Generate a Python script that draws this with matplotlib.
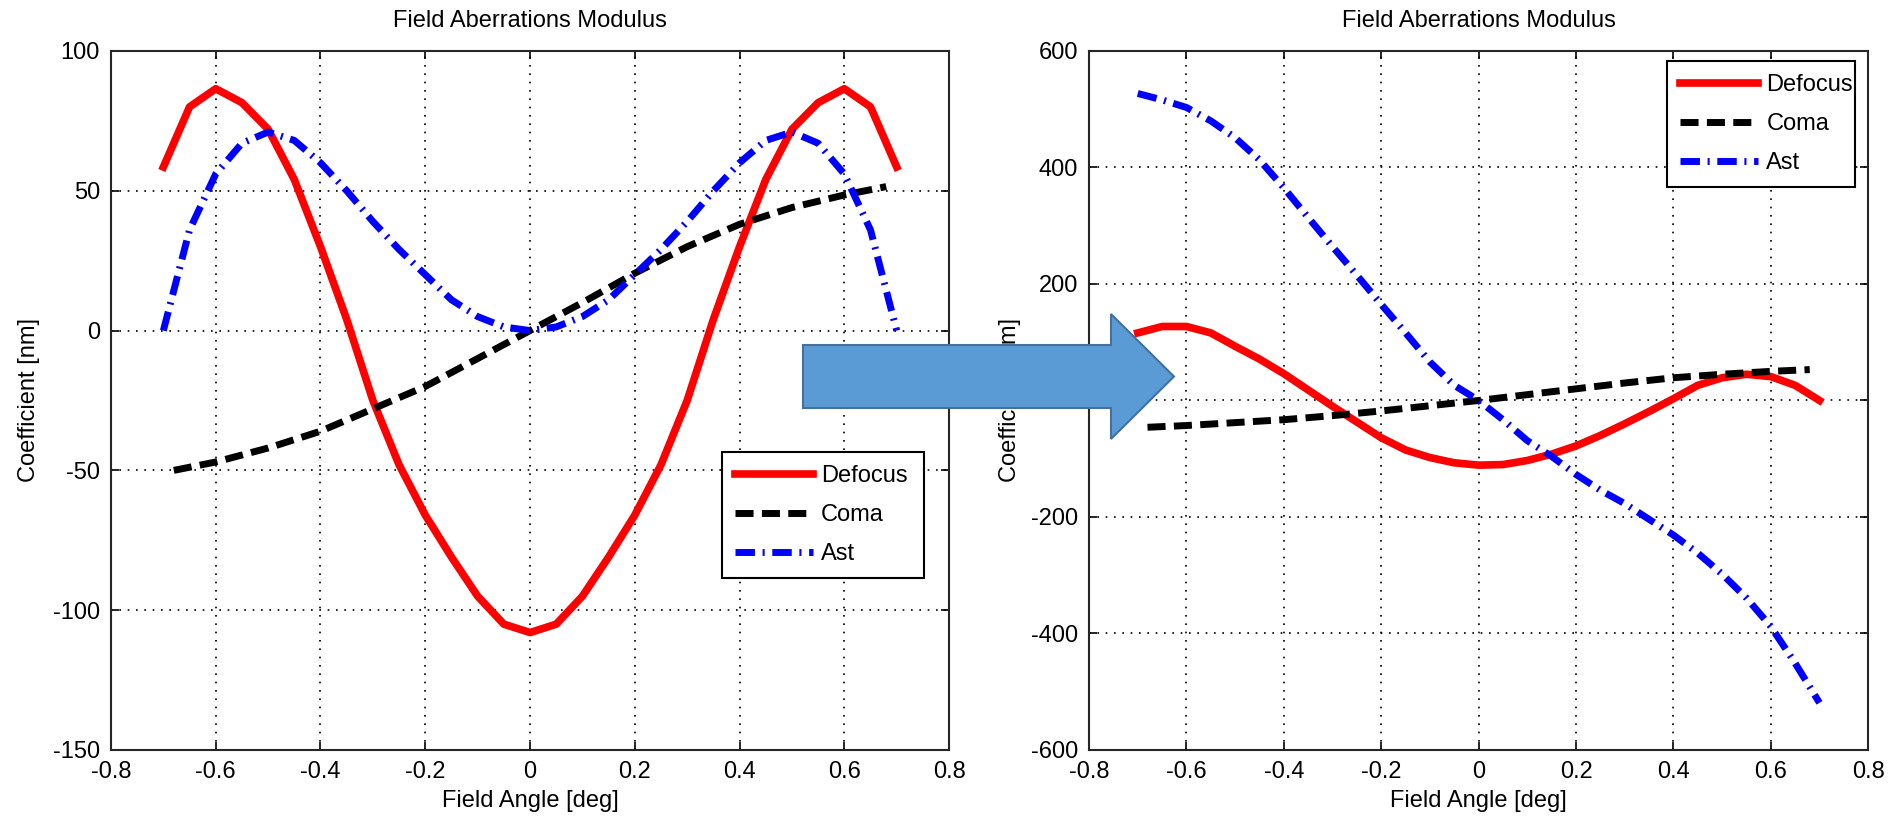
import numpy as np
import matplotlib
matplotlib.use('Agg')
import matplotlib.pyplot as plt
from matplotlib.patches import Polygon

plt.rcParams['font.family'] = ['Liberation Sans', 'DejaVu Sans']
plt.rcParams['font.size'] = 17
plt.rcParams['axes.unicode_minus'] = False

# ---- data ----
x_grid = [-0.7, -0.65, -0.6, -0.55, -0.5, -0.45, -0.4, -0.35, -0.3, -0.25, -0.2, -0.15, -0.1, -0.05, 0.0,
          0.05, 0.1, 0.15, 0.2, 0.25, 0.3, 0.35, 0.4, 0.45, 0.5, 0.55, 0.6, 0.65, 0.7]
x_coma = [-0.68, -0.6, -0.5, -0.4, -0.3, -0.2, -0.1, 0.0, 0.1, 0.2, 0.3, 0.4, 0.5, 0.6, 0.68]

# left panel
defocus_left = [58.5, 80, 86.5, 81.5, 72, 54, 30, 4, -25, -48, -66, -81, -95, -105, -108,
                -105, -95, -81, -66, -48, -25, 4, 30, 54, 72, 81.5, 86.5, 80, 58.5]
coma_left = [-50, -47, -42, -36, -28, -20, -10, 0, 10, 20.5, 30, 38, 44, 48.5, 51.5]
ast_left = [0, 36, 56, 67, 71, 68, 60, 50, 39, 29, 20, 11, 5, 1.3, 0,
            1.3, 5, 11, 20, 29, 39, 50, 60, 68, 71, 67, 56, 36, 0]

# right panel
defocus_right = [116, 127, 127, 116, 93, 71, 46, 18, -10, -37, -64, -85, -98, -107, -111,
                 -110, -103, -92, -78, -60, -40, -19, 3, 26, 39, 45, 41, 26, 0]
coma_right = [-46, -43, -38, -33, -26, -18, -9, 0, 10, 20, 30, 39, 45, 50, 53]
ast_right = [527, 516, 503, 480, 451, 413, 365, 314, 264, 215, 165, 116, 66, 26, 0,
             -33, -69, -96, -127, -154, -177, -204, -231, -262, -298, -339, -388, -451, -519]

x_ticks = [-0.8, -0.6, -0.4, -0.2, 0, 0.2, 0.4, 0.6, 0.8]
x_tick_labels = ['-0.8', '-0.6', '-0.4', '-0.2', '0', '0.2', '0.4', '0.6', '0.8']
y_ticks_left = [-150, -100, -50, 0, 50, 100]
y_ticks_right = [-600, -400, -200, 0, 200, 400, 600]

fig = plt.figure(figsize=(18.97, 8.22), dpi=100)
ax1 = fig.add_axes([0.0585, 0.0876, 0.4418, 0.8504])
ax2 = fig.add_axes([0.5741, 0.0876, 0.4107, 0.8504])


def draw(ax, defocus, coma, ast, yticks, ylim, leg_anchor, ylabelpad):
    ax.plot(x_grid, defocus, color='red', lw=5.5, label='Defocus', zorder=3)
    ax.plot(x_coma, coma, color='black', lw=5, dashes=(2.6, 1.2), dash_capstyle='butt', label='Coma', zorder=3)
    ax.plot(x_grid, ast, color='blue', lw=5, dashes=(2.8, 1.1, 0.3, 1.1), dash_capstyle='butt',
            label='Ast', zorder=3)
    ax.set_xlim(-0.8, 0.8)
    ax.set_ylim(*ylim)
    ax.set_xticks(x_ticks)
    ax.set_xticklabels(x_tick_labels)
    ax.set_yticks(yticks)
    ax.set_yticklabels([str(v) for v in yticks])
    ax.grid(True, color='black', linestyle=(0, (1, 4)), lw=1.2)
    ax.tick_params(direction='in', length=6, width=1.2, top=True, right=True, pad=8)
    for s in ax.spines.values():
        s.set_linewidth(1.5)
        s.set_color('#262626')
    ax.set_title('Field Aberrations Modulus', fontsize=17, pad=17)
    ax.set_xlabel('Field Angle [deg]', labelpad=5)
    ax.set_ylabel('Coefficient [nm]', labelpad=ylabelpad)
    leg = ax.legend(loc='upper left', bbox_to_anchor=leg_anchor, mode='expand', borderaxespad=0,
                    fancybox=False, framealpha=1, edgecolor='black', handlelength=3.3,
                    handletextpad=0.35, labelspacing=0.72, borderpad=0.55)
    leg.get_frame().set_linewidth(1.5)


draw(ax1, defocus_left, coma_left, ast_left, y_ticks_left, (-150, 100), (0.729, 0.426 - 0.18, 0.241, 0.18), 9)
draw(ax2, defocus_right, coma_right, ast_right, y_ticks_right, (-600, 600), (0.742, 0.985 - 0.18, 0.241, 0.18), 7)

# block arrow between the panels (figure pixels -> fractions)
W, H = 1897.0, 822.0
pts = [(803, 345), (1111, 345), (1111, 314), (1174, 376.5), (1111, 439), (1111, 408), (803, 408)]
arrow = Polygon([(px / W, 1 - py / H) for px, py in pts], closed=True, transform=fig.transFigure,
                facecolor='#5B9BD5', edgecolor='#41719C', lw=1.5, zorder=10)
fig.add_artist(arrow)

fig.savefig('out.png', dpi=100)
